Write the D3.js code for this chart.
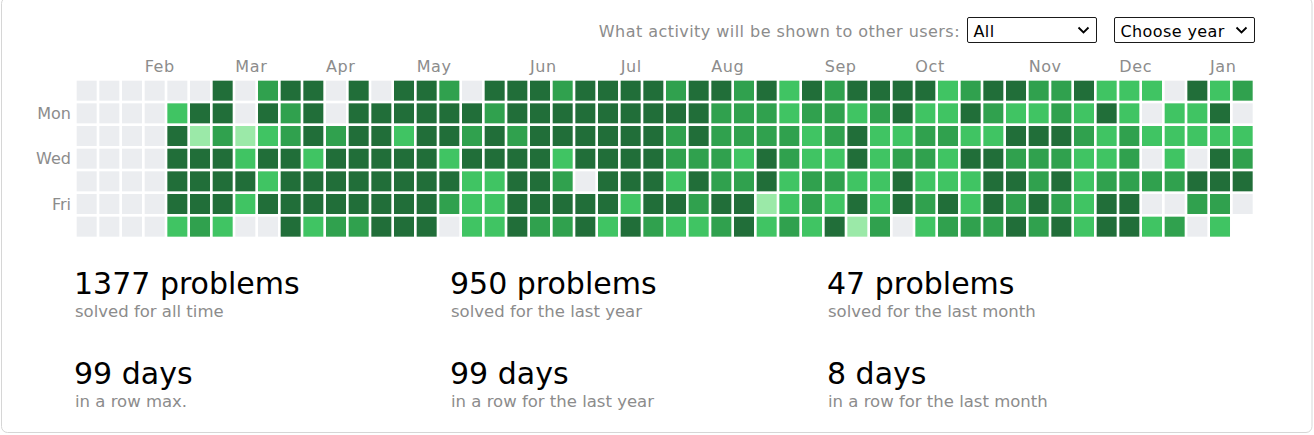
<!DOCTYPE html>
<html>
<head>
<meta charset="utf-8">
<script src="https://cdn.jsdelivr.net/npm/d3@7"></script>
<style>
  html, body { margin: 0; padding: 0; background: #fff; }
  svg { display: block; font-family: "DejaVu Sans", Verdana, sans-serif; }
</style>
</head>
<body>
<svg id="chart" width="1314" height="435"></svg>
<script>
// ---- data ----
// activity level per week (52 weeks), one array per weekday row (0 = none .. 4 = most)
const sun = [0,0,0,0,0,0,4,0,3,4,4,0,4, 0,4,4,3,0,4,4,4,3,4,4,4,4, 3,4,4,3,4,2,4,3,4,4,4,4,2, 3,4,4,3,3,4,2,2,2,0,4,2,3];
const mon = [0,0,0,0,2,4,4,0,4,3,4,0,4, 4,4,4,4,4,3,4,4,4,4,4,4,4, 4,4,3,3,3,2,3,3,2,3,4,2,2, 4,3,2,2,3,2,4,2,0,2,2,4,0];
const tue = [0,0,0,0,4,1,3,1,2,3,4,3,4, 4,2,4,4,3,4,3,4,4,4,4,4,4, 3,4,3,3,3,3,2,3,4,2,2,3,3, 2,2,4,4,4,3,2,3,2,2,2,2,2];
const wed = [0,0,0,0,4,4,4,2,4,4,2,4,4, 4,4,4,2,4,4,4,4,2,4,4,4,4, 3,3,3,2,4,3,2,2,4,2,3,3,2, 4,4,3,3,3,2,2,3,0,2,0,4,3];
const thu = [0,0,0,0,4,4,4,4,2,4,4,4,4, 4,4,4,4,2,2,4,4,3,0,4,4,4, 2,4,3,3,4,2,3,3,2,2,4,2,2, 2,4,4,3,4,2,3,3,3,3,4,4,4];
const fri = [0,0,0,0,4,4,4,2,4,4,4,4,4, 4,4,4,3,2,2,4,4,4,4,4,2,4, 4,3,4,4,1,2,3,2,4,2,4,3,4, 2,4,3,4,3,2,4,4,0,0,3,3,0];
const sat = [0,0,0,0,2,3,2,0,0,4,2,3,3, 4,4,4,0,2,2,4,3,3,4,2,4,3, 2,2,3,4,2,3,2,4,1,3,0,2,3, 3,3,4,3,4,2,4,4,2,3,0,2,null];
const weekdayRows = [sun, mon, tue, wed, thu, fri, sat];

const dayLabels = ["", "Mon", "", "Wed", "", "Fri", ""];
const monthLabels = ["Feb","Mar","Apr","May","Jun","Jul","Aug","Sep","Oct","Nov","Dec","Jan"];
const monthWeeks  = [3, 7, 11, 15, 20, 24, 28, 33, 37, 42, 46, 50];

const levelColors = ["#ebedf0", "#9be9a8", "#40c463", "#30a14e", "#216e39"];

const statValues = ["1377 problems", "950 problems", "47 problems", "99 days", "99 days", "8 days"];
const statLabels = ["solved for all time", "solved for the last year", "solved for the last month",
                    "in a row max.", "in a row for the last year", "in a row for the last month"];

const headerLabel = "What activity will be shown to other users:";
const selectOptions = ["All", "Choose year"];

// ---- drawing ----
const svg = d3.select("#chart");
const nWeeks = sun.length;
const step = 68 / 3;
const cell = 20;

// card border
svg.append("rect")
  .attr("x", 1.5).attr("y", -2.5)
  .attr("width", 1310.5).attr("height", 435)
  .attr("rx", 6)
  .attr("fill", "none").attr("stroke", "#d6d6d6");

const x = d3.scaleLinear().domain([0, nWeeks]).range([76.67, 76.67 + nWeeks * step]);
const y = d3.scaleLinear().domain([0, 7]).range([80.67, 80.67 + 7 * step]);
const color = d3.scaleOrdinal().domain([0,1,2,3,4]).range(levelColors);

const cells = [];
weekdayRows.forEach((row, d) => row.forEach((v, w) => {
  if (v !== null && v !== undefined) cells.push({w, d, v});
}));

svg.append("g").selectAll("rect").data(cells).join("rect")
  .attr("x", c => x(c.w)).attr("y", c => y(c.d))
  .attr("width", cell).attr("height", cell)
  .attr("fill", c => color(c.v));

// month labels
svg.append("g").selectAll("text").data(monthLabels).join("text")
  .attr("x", (m, i) => x(monthWeeks[i]))
  .attr("y", 72)
  .attr("font-size", 16)
  .attr("letter-spacing", 0.6)
  .attr("fill", "#8c8c8c")
  .text(m => m);

// day labels
svg.append("g").selectAll("text").data(dayLabels).join("text")
  .attr("x", 71)
  .attr("y", (t, i) => y(i) + cell / 2)
  .attr("dy", "0.36em")
  .attr("text-anchor", "end")
  .attr("font-size", 16)
  .attr("fill", "#8c8c8c")
  .text(t => t);

// header
svg.append("text")
  .attr("x", 960).attr("y", 37)
  .attr("text-anchor", "end")
  .attr("font-size", 16)
  .attr("letter-spacing", 0.45)
  .attr("fill", "#8c8c8c")
  .text(headerLabel);

const selects = [
  {x: 967.5, w: 129, label: selectOptions[0]},
  {x: 1114.5, w: 140, label: selectOptions[1]}
];
const sg = svg.append("g").selectAll("g").data(selects).join("g");
sg.append("rect")
  .attr("x", s => s.x).attr("y", 17.5)
  .attr("width", s => s.w).attr("height", 25)
  .attr("rx", 1.5)
  .attr("fill", "#fff").attr("stroke", "#1a1a1a");
sg.append("text")
  .attr("x", s => s.x + 6).attr("y", 37)
  .attr("font-size", 16).attr("letter-spacing", 0.4).attr("fill", "#000")
  .text(s => s.label);
sg.append("path")
  .attr("d", s => {
    const cx = s.x + s.w - 13, cy = 30;
    return `M${cx-5},${cy-2.5} L${cx},${cy+2.5} L${cx+5},${cy-2.5}`;
  })
  .attr("fill", "none").attr("stroke", "#000").attr("stroke-width", 1.8);

// stats
const colX = [74, 450, 827];
const rowY = [294, 384];
const st = svg.append("g").selectAll("g").data(statValues).join("g")
  .attr("transform", (s, i) => `translate(${colX[i % 3]},${rowY[Math.floor(i / 3)]})`);
st.append("text")
  .attr("font-size", 30).attr("fill", "#000")
  .text(s => s);
st.append("text")
  .attr("y", 23)
  .attr("x", 1)
  .attr("font-size", 16.5).attr("fill", "#8c8c8c")
  .text((s, i) => statLabels[i]);
</script>
</body>
</html>
